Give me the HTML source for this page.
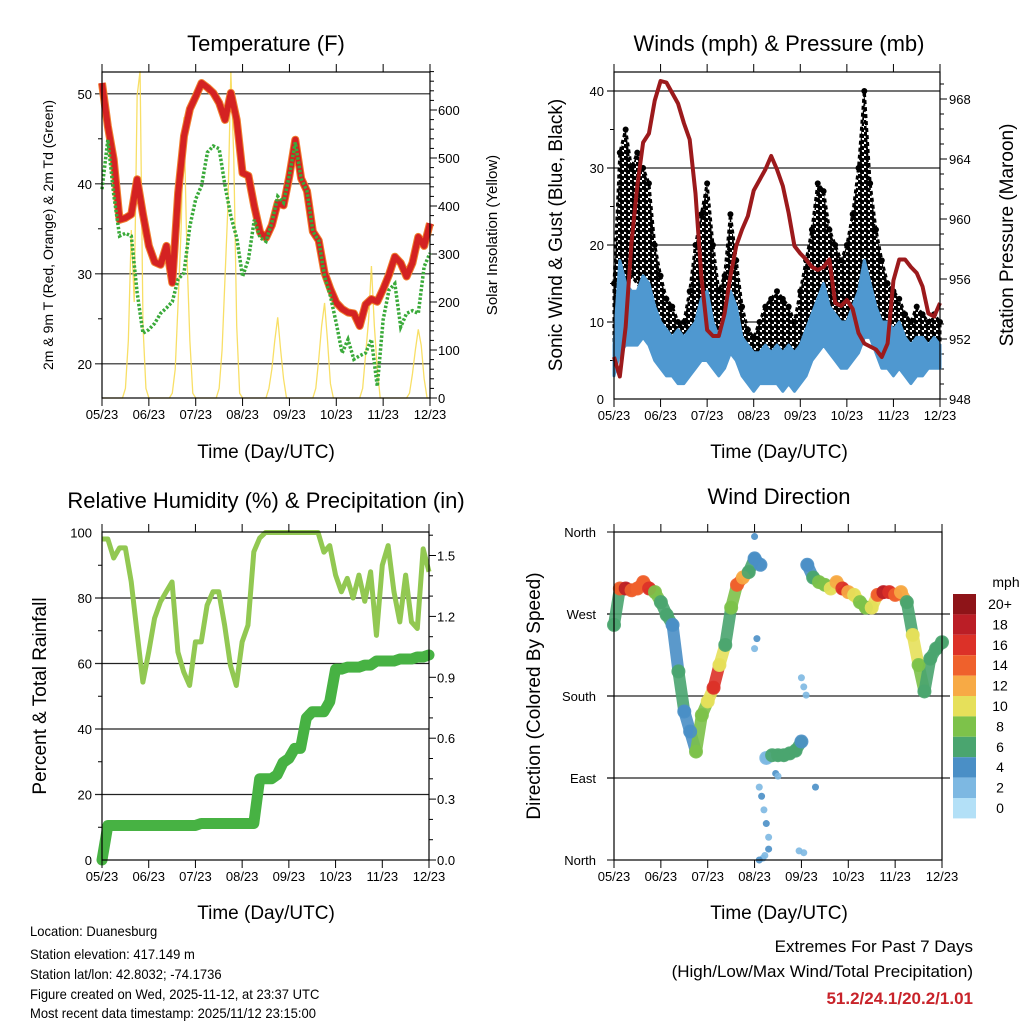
<!DOCTYPE html>
<html><head><meta charset="utf-8">
<style>
html,body{margin:0;padding:0;background:#fff;}
svg{display:block;font-family:"Liberation Sans",sans-serif;}
</style></head>
<body>
<svg id="chart" width="1024" height="1024" viewBox="0 0 1024 1024" xmlns="http://www.w3.org/2000/svg">
<defs>
<pattern id="dotpat" width="6" height="6" patternUnits="userSpaceOnUse">
<rect width="6" height="6" fill="#fff"/>
<circle cx="1.5" cy="1.5" r="2.6" fill="#000"/>
<circle cx="4.5" cy="4.5" r="2.6" fill="#000"/>
</pattern>
</defs>
<rect width="1024" height="1024" fill="#fff"/>
<g id="root"></g>
</svg>
<script>
// ---------- DATA (every 1/8 day, 57 points) ----------
const xLabels = ["05/23","06/23","07/23","08/23","09/23","10/23","11/23","12/23"];
const temp2m = [51.2,46.4,42.7,36.0,36.2,36.6,40.5,36.6,33.1,31.3,31.0,33.1,29.0,39.0,45.3,48.3,49.7,51.2,50.7,50.1,49.0,47.1,50.1,47.1,41.2,40.9,37.5,34.6,34.0,35.4,37.9,37.6,40.9,44.9,40.6,39.2,34.7,33.7,30.1,28.3,26.8,26.1,25.7,25.6,24.2,26.6,27.2,26.9,28.3,29.9,31.9,31.2,29.7,31.2,34.1,33.1,35.6];
const dew2m = [39.4,44.9,38.8,34.2,34.5,34.2,27.9,23.4,23.8,24.5,25.6,26.2,26.9,29.4,30.1,35.3,38.3,39.8,43.5,44.2,43.9,39.8,36.4,34.0,29.7,31.6,36.0,34.0,33.6,35.7,38.6,37.9,41.0,44.6,40.6,39.2,34.7,33.7,29.7,27.5,24.5,21.2,22.7,20.5,20.9,21.2,22.7,17.5,24.9,28.2,28.9,24.1,25.6,25.9,25.6,30.8,32.3];
// solar insolation every 1/16 day (113 points)
const solar = [0,0,0,0,0,0,0,0,20,120,350,200,630,681,150,20,
 0,0,0,0,0,0,0,0,10,60,200,350,585,300,120,10,
 0,0,0,0,0,0,0,0,20,100,250,400,680,500,150,10,
 0,0,0,0,0,0,0,0,0,20,60,120,168,100,40,0,
 0,0,0,0,0,0,0,0,0,20,80,150,198,120,30,0,
 0,0,0,0,0,0,0,0,0,20,90,160,275,150,60,0,
 0,0,0,0,0,0,0,0,0,10,50,100,143,110,40,0,0];
const pressure = [950.8,949.5,952.8,958.4,962.2,965.1,965.7,967.9,969.2,969.1,968.4,967.7,966.4,965.3,961.7,956.2,952.6,952.2,952.2,953.7,956.2,958.2,959.3,960.2,961.9,962.6,963.3,964.2,963.3,962.2,960.4,958.2,957.7,957.3,956.8,956.6,956.8,957.3,954.4,954.2,954.6,954.0,952.4,951.7,951.5,951.3,950.8,951.7,955.9,957.3,957.3,956.8,956.4,955.5,953.7,953.5,954.4];
const windLo = [3,6,7,7,7,8,7,5,4,3,3,2,2,3,4,5,5,4,3,4,6,5,3,2,1,2,2,2,2,1,2,1,2,3,5,6,7,6,5,4,4,5,6,8,8,6,4,4,3,4,3,2,3,3,4,4,4];
const windHi = [7,18,15,14,14,16,15,12,10,9,8,9,8,9,10,13,14,10,8,10,14,12,8,7,6,6,7,6,7,6,7,6,7,9,11,13,15,12,11,10,10,12,14,18,15,12,10,10,9,10,8,7,8,8,7,8,7];
const gustLo = [6,10,14,16,15,14,12,9,7,6,5,4,4,6,8,10,9,7,6,7,10,8,5,4,3,4,5,5,5,5,4,4,5,7,10,12,12,10,9,8,9,10,12,14,12,10,8,7,6,5,5,4,5,5,4,5,5];
const gustHi = [15,32,35,30,32,30,28,20,16,13,12,10,10,14,20,24,28,20,14,16,24,18,12,9,8,10,12,13,14,13,12,10,14,18,22,28,27,22,20,18,20,24,30,40,28,22,18,15,14,13,11,10,12,11,10,11,10];
const rh = [98,98,92.2,95.3,95.3,85,69.5,54.3,63.5,73.8,78.8,81.9,84.9,63.5,57.4,53.3,66.6,66.6,77.8,81.9,81.9,71.7,59.4,53.3,66.6,71.7,94.1,98.3,100,100,100,100,100,100,100,100,100,100,94,96,87,81.9,86,80,87,79,88,68.6,90,96,81.9,72.7,87,72.7,70.7,95,88];
const precip = [0,0.17,0.17,0.17,0.17,0.17,0.17,0.17,0.17,0.17,0.17,0.17,0.17,0.17,0.17,0.17,0.17,0.18,0.18,0.18,0.18,0.18,0.18,0.18,0.18,0.18,0.18,0.40,0.40,0.40,0.42,0.48,0.50,0.55,0.55,0.70,0.73,0.73,0.73,0.78,0.94,0.94,0.95,0.95,0.95,0.96,0.96,0.98,0.98,0.98,0.98,0.99,0.99,0.99,1.00,1.00,1.01];
const windDir = [258,298,298,296,298,305,298,294,283,269,258,207,163,141,119,159,174,189,214,236,277,302,310,316,331,324,112,115,115,115,117,120,130,324,310,305,302,298,305,298,294,291,283,277,277,291,294,294,291,294,283,247,214,185,221,232,239];
const windSpd = [5,14,17,14,14,13,16,8,6,5,4,5,3,3,7,7,10,15,10,5,7,13,11,6,4,3,2,5,6,6,6,6,4,4,6,7,7,10,12,16,12,9,8,7,10,13,17,16,13,12,6,9,7,6,5,5,6];
const strayDay = [3.1,3.15,3.2,3.25,3.3,3.3,3.22,3.18,3.1,3.0,3.05,3.0,4.0,4.05,4.1,3.95,4.05,4.3,3.45,3.5];
const strayDir = [80,70,55,40,25,12,5,2,0,355,243,232,200,190,181,10,8,80,95,92];
const strayRow = [2,3,2,3,2,3,2,2,4,3,3,2,2,2,2,2,2,3,3,2];
const cbLabels = ["20+","18","16","14","12","10","8","6","4","2","0"];
const cbColors = ["#8e1418","#bb1e26","#dc3128","#ef612c","#f7aa45","#e6e05a","#7dc24a","#4aa56f","#4a8fc6","#7db8e2","#b3e0f7"];

// ---------- helpers ----------
const NS="http://www.w3.org/2000/svg";
const root=document.getElementById('root');
function mk(tag,attrs,parent){const e=document.createElementNS(NS,tag);for(const k in attrs)e.setAttribute(k,attrs[k]);(parent||root).appendChild(e);return e;}
function txt(s,x,y,size,anchor,parent,extra){const e=mk('text',Object.assign({x:x,y:y,'font-size':size,'text-anchor':anchor||'middle',fill:'#000'},extra||{}),parent);e.textContent=s;return e;}
const days = Array.from({length:57},(_,i)=>i/8);
function colorFor(s){const i=Math.min(10,Math.max(0,Math.round(s/2)));return cbColors[10-i];}

function frame(g,x0,x1,y0,y1){
  mk('rect',{x:x0,y:y0,width:x1-x0,height:y1-y0,fill:'none',stroke:'#000','stroke-width':1.2},g);
  for(let d=0;d<=7;d++){const x=x0+d*(x1-x0)/7;
    mk('line',{x1:x,x2:x,y1:y0,y2:y0-8,stroke:'#000','stroke-width':1},g);
    mk('line',{x1:x,x2:x,y1:y1,y2:y1+8,stroke:'#000','stroke-width':1},g);
    const t=txt(xLabels[d],x,y1+21,13,'middle',g);
    
    
  }
}

// ===== Panel 1: Temperature =====
(function(){
 const g=mk('g',{});  
 const x0=102,x1=430,y0=72,y1=398;
 const sx=d=>x0+d/7*(x1-x0), sy=v=>y1-(v-16.2)*9.0, ss=v=>398-v*0.48;
 [20,30,40,50].forEach(v=>{mk('line',{x1:x0-7,x2:x1,y1:sy(v),y2:sy(v),stroke:'#222','stroke-width':1.2},g);txt(String(v),x0-10,sy(v)+5,13,'end',g);});
 [25,35,45].forEach(v=>mk('line',{x1:x0-4,x2:x0,y1:sy(v),y2:sy(v),stroke:'#000'},g));
 for(let v=0;v<=680;v+=20){const big=v%100===0;mk('line',{x1:x1,x2:x1+(big?7:4),y1:ss(v),y2:ss(v),stroke:'#000'},g);if(big&&v<=600)txt(String(v),x1+8,ss(v)+5,13,'start',g);}
 const sp=mk('polyline',{points:solar.map((v,i)=>sx(i/16)+','+ss(v)).join(' '),fill:'none',stroke:'#f7dc55','stroke-width':1.3,opacity:0.9},g);
  
 const pts=temp2m.map((v,i)=>sx(days[i])+','+sy(v)).join(' ');
 const o=mk('polyline',{points:pts,fill:'none',stroke:'#f07f2e','stroke-width':8,'stroke-linejoin':'round'},g);
  
 const r=mk('polyline',{points:pts,fill:'none',stroke:'#d42222','stroke-width':6,'stroke-linejoin':'round'},g);
  
 const dl=mk('polyline',{points:dew2m.map((v,i)=>sx(days[i])+','+sy(v)).join(' '),fill:'none',stroke:'#3aaa3a','stroke-width':3.5,'stroke-dasharray':'2.5 1.8'},g);
  
 frame(g,x0,x1,y0,y1);
 txt('Temperature (F)',266,51,22,'middle',g);
 txt('Time (Day/UTC)',266,458,19,'middle',g);
 txt('2m & 9m T (Red, Orange) & 2m Td (Green)',0,0,14,'middle',g,{transform:'translate(53,235) rotate(-90)'});
 txt('Solar Insolation (Yellow)',0,0,15,'middle',g,{transform:'translate(497,235) rotate(-90)'});
})();

// ===== Panel 2: Winds & Pressure =====
(function(){
 const g=mk('g',{});  
 const x0=614,x1=940,y0=72,y1=399;
 const sx=d=>x0+d/7*(x1-x0), sy=v=>y1-v*7.7, sp=v=>399-(v-948)*15;
 [10,20,30,40].forEach(v=>mk('line',{x1:x0-7,x2:x1,y1:sy(v),y2:sy(v),stroke:'#222','stroke-width':1.2},g));
 [0,10,20,30,40].forEach(v=>txt(String(v),x0-10,sy(v)+5,13,'end',g));
 [5,15,25,35].forEach(v=>mk('line',{x1:x0-4,x2:x0,y1:sy(v),y2:sy(v),stroke:'#000'},g));
 for(let v=948;v<=969;v++){const big=(v-948)%4===0;mk('line',{x1:x1,x2:x1+(big?7:4),y1:sp(v),y2:sp(v),stroke:'#000'},g);if(big)txt(String(v),x1+9,sp(v)+5,13,'start',g);}
 const up=gustHi.map((v,i)=>sx(days[i])+','+sy(v)), lo=gustLo.map((v,i)=>sx(days[i])+','+sy(v)).reverse();
 const gb=mk('polygon',{points:up.concat(lo).join(' '),fill:'url(#dotpat)',stroke:'#000','stroke-width':3,'stroke-linejoin':'round','stroke-dasharray':'4 3'},g);
  
 gustHi.forEach((v,i)=>{const c=mk('circle',{cx:sx(days[i]),cy:sy(v),r:3,fill:'#000'},g);
    });
 const up2=windHi.map((v,i)=>sx(days[i])+','+sy(v)), lo2=windLo.map((v,i)=>sx(days[i])+','+sy(v)).reverse();
 const wb=mk('polygon',{points:up2.concat(lo2).join(' '),fill:'#4f98d0',stroke:'#4f98d0','stroke-width':3,'stroke-linejoin':'round'},g);
  
 const pl=mk('polyline',{points:pressure.map((v,i)=>sx(days[i])+','+sp(v)).join(' '),fill:'none',stroke:'#9c1a1c','stroke-width':4,'stroke-linejoin':'round'},g);
  
 frame(g,x0,x1,y0,y1);
 txt('Winds (mph) & Pressure (mb)',779,51,22,'middle',g);
 txt('Time (Day/UTC)',779,458,19,'middle',g);
 txt('Sonic Wind & Gust (Blue, Black)',0,0,19,'middle',g,{transform:'translate(562,235) rotate(-90)'});
 txt('Station Pressure (Maroon)',0,0,19,'middle',g,{transform:'translate(1013,235) rotate(-90)'});
})();

// ===== Panel 3: RH & Precip =====
(function(){
 const g=mk('g',{});  
 const x0=102,x1=429,y0=532,y1=860;
 const sx=d=>x0+d/7*(x1-x0), sy=v=>y1-v*3.275, sq=v=>y1-v*203;
 [20,40,60,80].forEach(v=>mk('line',{x1:x0-7,x2:x1,y1:sy(v),y2:sy(v),stroke:'#222','stroke-width':1.2},g));
 [0,20,40,60,80,100].forEach(v=>txt(String(v),x0-10,sy(v)+5,13,'end',g));
 [10,30,50,70,90].forEach(v=>mk('line',{x1:x0-4,x2:x0,y1:sy(v),y2:sy(v),stroke:'#000'},g));
 for(let k=0;k<=16;k++){const v=k/10,big=k%3===0;mk('line',{x1:x1,x2:x1+(big?7:4),y1:sq(v),y2:sq(v),stroke:'#000'},g);if(big)txt(v.toFixed(1),x1+8,sq(v)+5,13,'start',g);}
 const rl=mk('polyline',{points:rh.map((v,i)=>sx(days[i])+','+sy(v)).join(' '),fill:'none',stroke:'#92c852','stroke-width':5,'stroke-linejoin':'round'},g);
  
 const ql=mk('polyline',{points:precip.map((v,i)=>sx(days[i])+','+sq(v)).join(' '),fill:'none',stroke:'#47b243','stroke-width':11,'stroke-linejoin':'round','stroke-linecap':'round'},g);
  
 frame(g,x0,x1,y0,y1);
 txt('Relative Humidity (%) & Precipitation (in)',266,508,22,'middle',g);
 txt('Time (Day/UTC)',266,919,19,'middle',g);
 txt('Percent & Total Rainfall',0,0,19,'middle',g,{transform:'translate(46,696) rotate(-90)'});
})();

// ===== Panel 4: Wind Direction =====
(function(){
 const g=mk('g',{});  
 const x0=614,x1=942,y0=532,y1=860;
 const sx=d=>x0+d/7*(x1-x0), sy=v=>y1-v/360*328;
 const names=['North','East','South','West','North'];
 [0,90,180,270,360].forEach((v,i)=>{if(i>0&&i<4)mk('line',{x1:x0-7,x2:x1+8,y1:sy(v),y2:sy(v),stroke:'#222','stroke-width':1.2},g);
   mk('line',{x1:x0-7,x2:x0,y1:sy(v),y2:sy(v),stroke:'#000'},g);txt(names[i],x0-18,sy(v)+5,13,'end',g);});
 for(let i=0;i<56;i++){
   if(Math.abs(windDir[i+1]-windDir[i])>90) continue;
   const l=mk('line',{x1:sx(days[i]),y1:sy(windDir[i]),x2:sx(days[i+1]),y2:sy(windDir[i+1]),stroke:colorFor(windSpd[i]),'stroke-width':12,'stroke-linecap':'round',opacity:0.9},g);
    
 }
 windDir.forEach((v,i)=>{const c=mk('circle',{cx:sx(days[i]),cy:sy(v),r:7,fill:colorFor(windSpd[i]),opacity:0.9},g);
    });
 strayDir.forEach((v,i)=>{const c=mk('circle',{cx:sx(strayDay[i]),cy:sy(v),r:3.5,fill:colorFor(strayRow[i]),opacity:0.9},g);
    });
 frame(g,x0,x1,y0,y1);
 txt('Wind Direction',779,504,22,'middle',g);
 txt('Time (Day/UTC)',779,919,19,'middle',g);
 txt('Direction (Colored By Speed)',0,0,19,'middle',g,{transform:'translate(540,696) rotate(-90)'});
 const cb=mk('g',{},g);  
 txt('mph',1006,587,14,'middle',cb);
 cbColors.forEach((c,i)=>{mk('rect',{x:953,y:594+i*20.4,width:23,height:20.4,fill:c},cb);
   txt(cbLabels[i],1000,594+i*20.4+15,14,'middle',cb);});
})();

// ===== Footer =====
(function(){
 const g=mk('g',{});  
 const lines=['Location: Duanesburg','Station elevation: 417.149 m','Station lat/lon: 42.8032; -74.1736','Figure created on Wed, 2025-11-12, at 23:37 UTC','Most recent data timestamp: 2025/11/12 23:15:00'];
 const ys=[936,959,979,999,1018];
 lines.forEach((s,i)=>txt(s,30,ys[i],14,'start',g,{transform:'translate(30,0) scale(0.93,1) translate(-30,0)'}));
 txt('Extremes For Past 7 Days',973,952,17,'end',g);
 txt('(High/Low/Max Wind/Total Precipitation)',973,977,17,'end',g);
 txt('51.2/24.1/20.2/1.01',973,1004,17,'end',g,{fill:'#c8232a','font-weight':'bold'});
})();
</script>
</body></html>
